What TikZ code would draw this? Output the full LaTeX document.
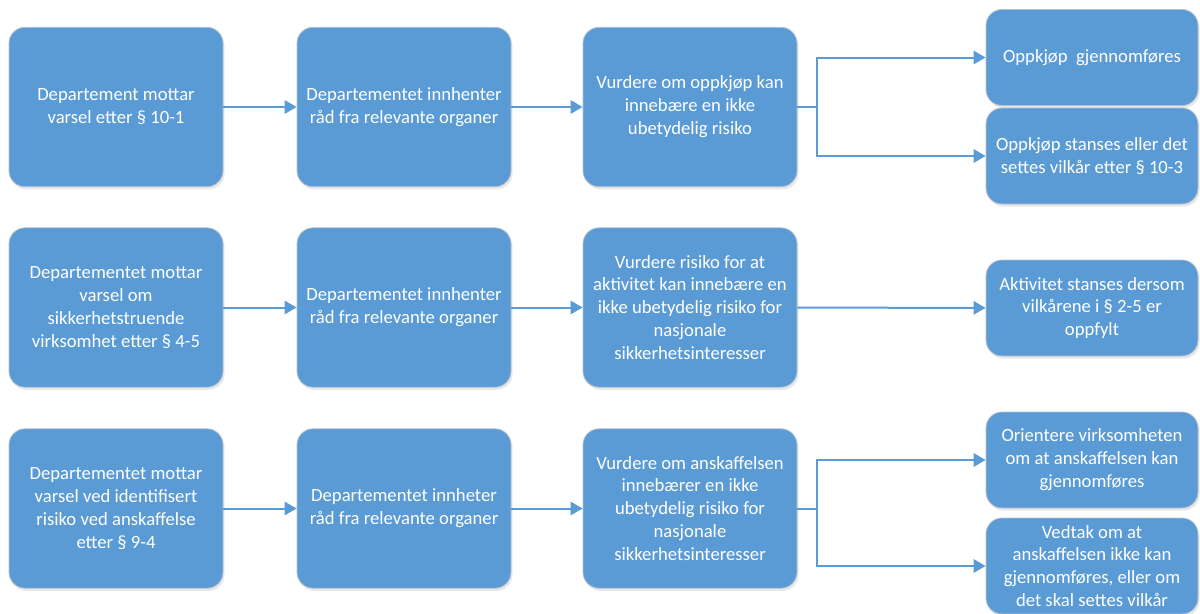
\documentclass[tikz,border=0pt]{standalone}
\usepackage{fontspec}
\setmainfont{Carlito}
\usetikzlibrary{arrows.meta,shadows}
\definecolor{boxblue}{RGB}{91,155,213}
\definecolor{boxedge}{RGB}{175,192,210}
\begin{document}
\begin{tikzpicture}[x=0.75pt,y=-0.75pt,
  box/.style={rectangle, rounded corners=12pt, fill=boxblue, draw=boxedge, line width=0.6pt,
    text=white, align=center, inner sep=2pt,
    font=\fontsize{14}{17.2}\selectfont,
    drop shadow={opacity=0.18, shadow xshift=1.2pt, shadow yshift=-2pt}},
  bigbox/.style={box, minimum width=160.5pt, minimum height=119.5pt},
  smallbox/.style={box, minimum width=159pt, minimum height=72pt},
  arr/.style={draw=boxblue, line width=1.5pt, -{Triangle[length=9pt,width=10pt]}},
  ln/.style={draw=boxblue, line width=1.5pt}]
\useasboundingbox (0,0) rectangle (1200,614);

% Row 1
\node[bigbox] (a1) at (116,107) {Departement mottar\\varsel etter § 10-1};
\node[bigbox] (a2) at (404,107) {Departementet innhenter\\råd fra relevante organer};
\node[bigbox] (a3) at (690,107) {Vurdere om oppkjøp kan\\innebære en ikke\\ubetydelig risiko};
\node[smallbox] (a4) at (1092,57.5) {Oppkjøp~ gjennomføres};
\node[smallbox] (a5) at (1092,156) {Oppkjøp stanses eller det\\settes vilkår etter § 10-3};

% Row 2
\node[bigbox] (b1) at (116,307.5) {Departementet mottar\\varsel om\\sikkerhetstruende\\virksomhet etter § 4-5};
\node[bigbox] (b2) at (404,307.5) {Departementet innhenter\\råd fra relevante organer};
\node[bigbox] (b3) at (690,307.5) {Vurdere risiko for at\\aktivitet kan innebære en\\ikke ubetydelig risiko for\\nasjonale\\sikkerhetsinteresser};
\node[smallbox] (b4) at (1092,308) {Aktivitet stanses dersom\\vilkårene i § 2-5 er\\oppfylt};

% Row 3
\node[bigbox] (c1) at (116,508.5) {Departementet mottar\\varsel ved identifisert\\risiko ved anskaffelse\\etter § 9-4};
\node[bigbox] (c2) at (404,508.5) {Departementet innheter\\råd fra relevante organer};
\node[bigbox] (c3) at (690,508.5) {Vurdere om anskaffelsen\\innebærer en ikke\\ubetydelig risiko for\\nasjonale\\sikkerhetsinteresser};
\node[smallbox] (c4) at (1092,460) {Orientere virksomheten\\om at anskaffelsen kan\\gjennomføres};
\node[smallbox] (c5) at (1092,566) {Vedtak om at\\anskaffelsen ikke kan\\gjennomføres, eller om\\det skal settes vilkår};

% Junctions
\coordinate (j1) at (817,107);
\coordinate (j3) at (817,508.5);

% Connectors
\draw[arr] (a1) -- (a2);
\draw[arr] (a2) -- (a3);
\draw[ln] (a3.east) -- (j1);
\draw[arr] (j1) |- (a4.west);
\draw[arr] (j1) |- (a5.west);

\draw[arr] (b1) -- (b2);
\draw[arr] (b2) -- (b3);
\draw[arr] (b3) -- (b4);

\draw[arr] (c1) -- (c2);
\draw[arr] (c2) -- (c3);
\draw[ln] (c3.east) -- (j3);
\draw[arr] (j3) |- (c4.west);
\draw[arr] (j3) |- (c5.west);
\end{tikzpicture}
\end{document}
